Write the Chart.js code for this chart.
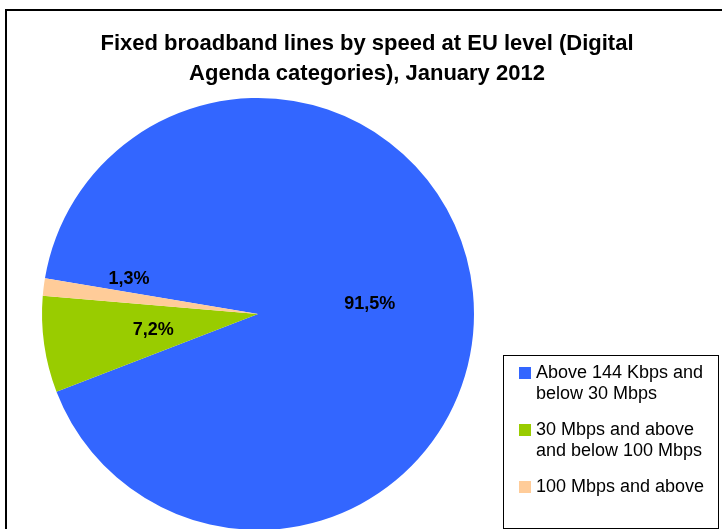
<!DOCTYPE html>
<html>
<head>
<meta charset="utf-8">
<title>Fixed broadband lines by speed</title>
<script src="https://cdn.jsdelivr.net/npm/chart.js@4/dist/chart.umd.min.js"></script>
<style>
  html, body { margin: 0; padding: 0; background: #fff; overflow: hidden; }
  #wrap { position: absolute; left: 0; top: 0; width: 722px; height: 540px; }
</style>
</head>
<body>
<div id="wrap"><canvas id="myChart" width="722" height="540"></canvas></div>
<script>
const titleLines = ['Fixed broadband lines by speed at EU level (Digital', 'Agenda categories), January 2012'];
const categories = [
  ['Above 144 Kbps and', 'below 30 Mbps'],
  ['30 Mbps and above', 'and below 100 Mbps'],
  ['100 Mbps and above']
];
const shares = [91.5, 7.2, 1.3];
const sliceColors = ['#3366FF', '#99CC00', '#FFCC99'];

const FONT = "'Liberation Sans', Arial, sans-serif";
const fmt = v => v.toFixed(1).replace('.', ',') + '%';

// label placement per slice: fraction of radius and extra angle (deg)
const labelPlace = [
  { r: 0.52, shift: 0 },
  { r: 0.49, shift: 0 },
  { r: 0.62, shift: 8.5 }
];

const frame = {
  id: 'frame',
  afterDraw(chart) {
    const ctx = chart.ctx;
    ctx.save();
    // outer chart border
    ctx.strokeStyle = '#000';
    ctx.lineWidth = 2;
    ctx.strokeRect(6, 10, 740, 560);

    // title
    ctx.fillStyle = '#000';
    ctx.font = 'bold 22px ' + FONT;
    ctx.textAlign = 'center';
    ctx.textBaseline = 'alphabetic';
    titleLines.forEach((t, i) => ctx.fillText(t, 367, 50 + i * 30));

    // legend box
    ctx.lineWidth = 1;
    ctx.strokeStyle = '#000';
    ctx.strokeRect(503.5, 355.5, 215, 173);
    ctx.font = '18px ' + FONT;
    ctx.textAlign = 'left';
    ctx.textBaseline = 'middle';
    let y = 373;
    chart.data.labels.forEach((lines, i) => {
      ctx.fillStyle = sliceColors[i];
      ctx.fillRect(519, y - 6, 12, 12);
      ctx.fillStyle = '#000';
      lines.forEach((ln, j) => ctx.fillText(ln, 536, y + j * 21));
      y += (lines.length - 1) * 21 + 36;
    });
    ctx.restore();
  },
  afterDatasetsDraw(chart) {
    const ctx = chart.ctx;
    const meta = chart.getDatasetMeta(0);
    ctx.save();
    ctx.font = 'bold 18px ' + FONT;
    ctx.fillStyle = '#000';
    ctx.textAlign = 'center';
    ctx.textBaseline = 'middle';
    meta.data.forEach((arc, i) => {
      const p = arc.getProps(['x', 'y', 'startAngle', 'endAngle', 'outerRadius'], true);
      const a = (p.startAngle + p.endAngle) / 2 + labelPlace[i].shift * Math.PI / 180;
      const r = p.outerRadius * labelPlace[i].r;
      ctx.fillText(fmt(shares[i]), p.x + Math.cos(a) * r, p.y + Math.sin(a) * r + 1);
    });
    ctx.restore();
  }
};

new Chart(document.getElementById('myChart'), {
  type: 'pie',
  data: {
    labels: categories,
    datasets: [{
      data: shares,
      backgroundColor: sliceColors,
      borderWidth: 0,
      hoverOffset: 0
    }]
  },
  options: {
    responsive: false,
    animation: false,
    rotation: 279.5,
    layout: { padding: { left: 42, right: 248, top: 98, bottom: 10 } },
    plugins: {
      legend: { display: false },
      title: { display: false },
      tooltip: { enabled: false }
    }
  },
  plugins: [frame]
});
</script>
</body>
</html>
